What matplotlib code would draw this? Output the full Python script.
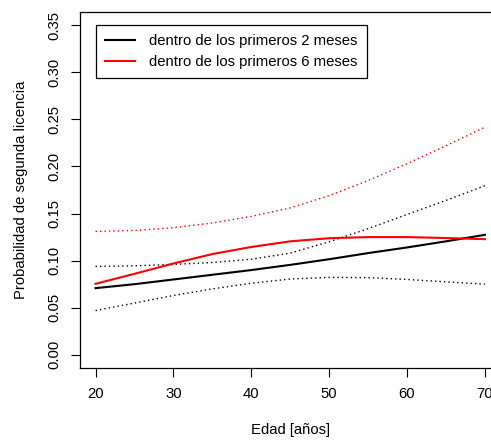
import numpy as np
import matplotlib
matplotlib.use("Agg")
import matplotlib.pyplot as plt

# edades en las que se leyeron los valores
edad = [20, 25, 30, 35, 40, 45, 50, 55, 60, 65, 70]

# dentro de los primeros 2 meses (estimación + banda)
p2 = [0.0708, 0.075, 0.080, 0.085, 0.090, 0.0955, 0.1015, 0.108, 0.114, 0.1205, 0.1274]
p2_sup = [0.0938, 0.0945, 0.096, 0.098, 0.1015, 0.108, 0.120, 0.134, 0.149, 0.164, 0.1795]
p2_inf = [0.047, 0.055, 0.063, 0.070, 0.076, 0.0805, 0.0822, 0.082, 0.080, 0.0775, 0.075]

# dentro de los primeros 6 meses
p6 = [0.0754, 0.086, 0.097, 0.107, 0.1145, 0.1205, 0.1238, 0.125, 0.125, 0.124, 0.1228]
p6_sup = [0.131, 0.132, 0.135, 0.140, 0.147, 0.156, 0.169, 0.185, 0.203, 0.222, 0.2417]

etiquetas = ["dentro de los primeros 2 meses", "dentro de los primeros 6 meses"]
x_ticks = [20, 30, 40, 50, 60, 70]
y_ticks = [0.00, 0.05, 0.10, 0.15, 0.20, 0.25, 0.30, 0.35]

plt.rcParams["font.family"] = ["Liberation Sans", "DejaVu Sans"]
plt.rcParams["font.size"] = 10.7

fig = plt.figure(figsize=(4.91, 4.41), dpi=100)
# el gráfico original queda cortado por la derecha
ax = fig.add_axes([80 / 491, 73 / 441, 420.5 / 491, 356 / 441])

punteado = (0, (1, 2.2))
l1, = ax.plot(edad, p2, color="black", lw=1.5)
ax.plot(edad, p2_sup, color="black", lw=1, linestyle=punteado)
ax.plot(edad, p2_inf, color="black", lw=1, linestyle=punteado)
l2, = ax.plot(edad, p6, color="red", lw=1.5)
ax.plot(edad, p6_sup, color="red", lw=1, linestyle=punteado)

ax.set_xlim(18, 72)
ax.set_ylim(-0.014, 0.364)
ax.set_xticks(x_ticks)
ax.set_yticks(y_ticks)
ax.set_yticklabels([f"{v:.2f}" for v in y_ticks], rotation=90, va="center")
ax.tick_params(axis="both", direction="out", length=6.5, width=0.8, pad=7, labelsize=10.7)
for s in ax.spines.values():
    s.set_linewidth(0.9)

ax.set_xlabel("Edad [años]", labelpad=16)
ax.set_ylabel("Probabilidad de segunda licencia", labelpad=14)

leg = ax.legend([l1, l2], etiquetas, loc="upper left",
                bbox_to_anchor=(0.038, 0.9635), borderaxespad=0,
                fancybox=False, edgecolor="black", framealpha=1,
                handlelength=2.0, handletextpad=1.0, labelspacing=0.5,
                borderpad=0.6, fontsize=10.7)
leg.get_frame().set_linewidth(0.9)

plt.savefig("out.png", dpi=100)
